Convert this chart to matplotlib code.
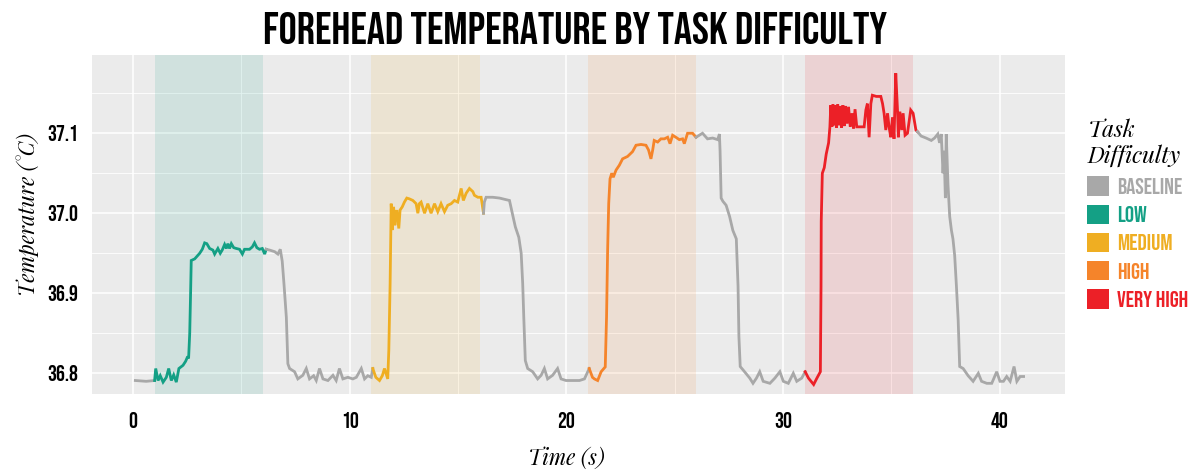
import matplotlib
matplotlib.use('Agg')
from matplotlib import pyplot as plt
from matplotlib.patches import Patch

###data###

levels = ['BASELINE', 'LOW', 'MEDIUM', 'HIGH', 'VERY HIGH']
level_colors = ['#A8A8A8', '#14A085', '#EFAE22', '#F5842A', '#EC2027']

# task windows (s)
task_levels = ['LOW', 'MEDIUM', 'HIGH', 'VERY HIGH']
task_start = [1, 11, 21, 31]
task_end = [6, 16, 26, 36]

# curve pieces, each one drawn in the colour of its level
seg_levels = ['BASELINE', 'LOW', 'BASELINE', 'MEDIUM', 'BASELINE',
              'HIGH', 'BASELINE', 'VERY HIGH', 'BASELINE']

seg_time = [
    [0.1, 0.6, 0.99],
    [0.99, 1.04, 1.15, 1.25, 1.38, 1.53, 1.64, 1.76, 1.87, 1.99, 2.11, 2.30,
     2.42, 2.50, 2.56, 2.61, 2.65, 2.68, 2.84, 3.07, 3.19, 3.30, 3.40, 3.53,
     3.68, 3.76, 3.91, 4.02, 4.11, 4.22, 4.30, 4.37, 4.45, 4.53, 4.64, 4.76,
     4.91, 5.04, 5.14, 5.37, 5.50, 5.60, 5.71, 5.83, 5.96, 6.07, 6.14],
    [6.14, 6.30, 6.53, 6.68, 6.79, 6.88, 6.96, 7.07, 7.14, 7.22, 7.45, 7.60,
     7.83, 7.99, 8.14, 8.33, 8.45, 8.60, 8.76, 8.99, 9.22, 9.37, 9.52, 9.68,
     9.91, 10.14, 10.30, 10.53, 10.68, 10.83, 10.99, 11.06],
    [11.06, 11.20, 11.37, 11.50, 11.60, 11.75, 11.80, 11.86, 11.91, 11.96,
     12.02, 12.08, 12.11, 12.17, 12.26, 12.32, 12.42, 12.52, 12.63, 12.75,
     12.91, 13.06, 13.14, 13.21, 13.29, 13.45, 13.60, 13.75, 13.91, 14.06,
     14.21, 14.37, 14.52, 14.68, 14.83, 14.98, 15.14, 15.24, 15.37, 15.52,
     15.68, 15.75, 15.91, 16.06, 16.17],
    [16.17, 16.21, 16.29, 16.60, 16.91, 17.21, 17.37, 17.52, 17.64, 17.80,
     17.91, 17.98, 18.03, 18.10, 18.21, 18.44, 18.67, 18.83, 18.98, 19.13,
     19.36, 19.59, 19.75, 19.98, 20.29, 20.60, 20.83, 21.05],
    [21.05, 21.20, 21.29, 21.44, 21.60, 21.79, 21.85, 21.90, 21.95, 22.01,
     22.09, 22.16, 22.29, 22.44, 22.59, 22.82, 23.05, 23.21, 23.44, 23.67,
     23.79, 23.90, 23.98, 24.05, 24.21, 24.36, 24.52, 24.67, 24.78, 24.90,
     25.05, 25.21, 25.36, 25.44, 25.59, 25.82, 25.98],
    [25.98, 26.13, 26.28, 26.51, 26.75, 26.98, 27.06, 27.09, 27.14, 27.22,
     27.37, 27.53, 27.68, 27.84, 27.92, 27.96, 28.02, 28.22, 28.46, 28.61,
     28.77, 28.92, 29.08, 29.39, 29.62, 29.85, 30.01, 30.24, 30.47, 30.63,
     30.86, 31.02],
    [31.02, 31.17, 31.41, 31.56, 31.72, 31.75, 31.76, 31.81, 31.90, 31.99,
     32.10, 32.16, 32.20, 32.25, 32.30, 32.35, 32.40, 32.46, 32.52, 32.58,
     32.64, 32.70, 32.76, 32.82, 32.88, 32.95, 33.02, 33.10, 33.18, 33.25,
     33.32, 33.40, 33.51, 33.74, 33.82, 33.89, 33.97, 34.05, 34.12, 34.30,
     34.51, 34.59, 34.66, 34.74, 34.82, 34.89, 34.97, 35.05, 35.12, 35.20,
     35.28, 35.32, 35.39, 35.48, 35.54, 35.63, 35.74, 35.89, 36.00, 36.13,
     36.20],
    [36.20, 36.37, 36.60, 36.84, 36.99, 37.14, 37.22, 37.30, 37.38, 37.43,
     37.49, 37.53, 37.61, 37.69, 37.77, 37.84, 37.92, 38.00, 38.08, 38.15,
     38.31, 38.54, 38.77, 39.01, 39.16, 39.40, 39.63, 39.86, 40.01, 40.17,
     40.32, 40.48, 40.66, 40.79, 40.94, 41.10],
]

seg_temp = [
    [36.791, 36.790, 36.791],
    [36.791, 36.806, 36.791, 36.797, 36.789, 36.795, 36.806, 36.791, 36.798,
     36.789, 36.806, 36.810, 36.815, 36.820, 36.820, 36.850, 36.900, 36.941,
     36.943, 36.950, 36.955, 36.963, 36.962, 36.956, 36.954, 36.949, 36.956,
     36.950, 36.954, 36.961, 36.956, 36.962, 36.956, 36.962, 36.957, 36.956,
     36.955, 36.949, 36.955, 36.955, 36.958, 36.963, 36.957, 36.955, 36.956,
     36.949, 36.955],
    [36.955, 36.954, 36.952, 36.949, 36.955, 36.940, 36.912, 36.870, 36.812,
     36.806, 36.802, 36.793, 36.7975, 36.806, 36.793, 36.797, 36.791, 36.806,
     36.793, 36.791, 36.7975, 36.791, 36.806, 36.793, 36.795, 36.793, 36.795,
     36.806, 36.793, 36.797, 36.795, 36.806],
    [36.806, 36.795, 36.791, 36.797, 36.806, 36.793, 36.829, 36.912, 37.012,
     36.979, 37.008, 36.985, 36.995, 37.004, 36.981, 37.004, 37.008, 37.014,
     37.019, 37.018, 37.016, 37.012, 37.000, 37.012, 37.014, 37.000, 37.012,
     37.000, 37.012, 37.002, 37.012, 37.002, 37.010, 37.012, 37.016, 37.014,
     37.031, 37.016, 37.025, 37.031, 37.027, 37.0225, 37.020, 37.020, 37.000],
    [37.000, 37.014, 37.020, 37.020, 37.019, 37.017, 37.016, 36.9975, 36.983,
     36.970, 36.950, 36.912, 36.870, 36.816, 36.806, 36.802, 36.793, 36.7975,
     36.806, 36.793, 36.7975, 36.806, 36.793, 36.791, 36.791, 36.791, 36.793,
     36.806],
    [36.806, 36.795, 36.793, 36.791, 36.802, 36.808, 36.870, 36.954, 37.012,
     37.043, 37.050, 37.045, 37.054, 37.060, 37.068, 37.071, 37.077, 37.085,
     37.086, 37.085, 37.079, 37.068, 37.079, 37.091, 37.089, 37.093, 37.093,
     37.095, 37.087, 37.0975, 37.095, 37.092, 37.093, 37.087, 37.100, 37.100,
     37.095],
    [37.095, 37.0975, 37.100, 37.093, 37.094, 37.092, 37.099, 37.078, 37.019,
     37.015, 37.010, 36.996, 36.9786, 36.968, 36.909, 36.846, 36.8085, 36.802,
     36.794, 36.7875, 36.794, 36.802, 36.790, 36.7875, 36.794, 36.802, 36.790,
     36.7875, 36.800, 36.790, 36.794, 36.802],
    [36.802, 36.794, 36.786, 36.794, 36.802, 36.909, 36.990, 37.050, 37.057,
     37.074, 37.088, 37.108, 37.135, 37.108, 37.136, 37.110, 37.135, 37.107,
     37.136, 37.110, 37.134, 37.107, 37.135, 37.109, 37.134, 37.112, 37.133,
     37.108, 37.125, 37.106, 37.130, 37.108, 37.108, 37.108, 37.129, 37.137,
     37.095, 37.137, 37.1475, 37.146, 37.146, 37.137, 37.125, 37.104, 37.125,
     37.108, 37.095, 37.120, 37.093, 37.175, 37.129, 37.095, 37.127, 37.104,
     37.125, 37.0975, 37.100, 37.129, 37.125, 37.104, 37.102],
    [37.102, 37.0965, 37.094, 37.091, 37.094, 37.099, 37.088, 37.099, 37.050,
     37.078, 37.019, 37.099, 37.036, 36.996, 36.9786, 36.968, 36.947, 36.909,
     36.867, 36.8085, 36.806, 36.797, 36.790, 36.800, 36.790, 36.7875, 36.7875,
     36.802, 36.790, 36.790, 36.796, 36.790, 36.8085, 36.790, 36.796, 36.796],
]

x_ticks = [0, 10, 20, 30, 40]
y_ticks = [36.8, 36.9, 37.0, 37.1]

###graph###

color_of = dict(zip(levels, level_colors))
bebas = ['Bebas Neue', 'DejaVu Sans']
playfair = ['Playfair Display', 'DejaVu Serif']

fig = plt.figure(figsize=(11.95, 4.72), dpi=100)
ax = fig.add_axes([0.077, 0.165, 0.814, 0.718])
ax.set_facecolor('#EBEBEB')
for s in ax.spines.values():
    s.set_visible(False)

ax.set_axisbelow(True)
ax.set_xticks([-5, 5, 15, 25, 35, 45], minor=True)
ax.set_yticks([36.75, 36.85, 36.95, 37.05, 37.15], minor=True)
ax.grid(which='major', color='white', lw=1.1)
ax.grid(which='minor', color='white', lw=0.6)

# shaded task windows
for lev, a, b in zip(task_levels, task_start, task_end):
    ax.axvspan(a, b, color=color_of[lev], alpha=0.12, lw=0)

for lev, t, v in zip(seg_levels, seg_time, seg_temp):
    ax.plot(t, v, color=color_of[lev], lw=2.0, solid_joinstyle='miter')

ax.set_xlim(-1.9, 43.0)
ax.set_ylim(36.774, 37.1975)
ax.set_xticks(x_ticks)
ax.set_yticks(y_ticks)
ax.set_yticklabels(['%.1f' % y for y in y_ticks])
ax.tick_params(which='both', length=0)
ax.tick_params(axis='x', pad=13)
ax.tick_params(axis='y', pad=10)
for lab in ax.get_xticklabels() + ax.get_yticklabels():
    lab.set_family(bebas)
    lab.set_fontsize(16)

ax.set_xlabel('Time (s)', family=playfair, style='italic', fontsize=15.5)
ax.xaxis.set_label_coords(0.488, -0.155)
ax.set_ylabel('Temperature (°C)', family=playfair, style='italic', fontsize=15.5)
ax.yaxis.set_label_coords(-0.055, 0.53)

fig.text(0.481, 0.94, 'FOREHEAD TEMPERATURE BY TASK DIFFICULTY',
         ha='center', va='center', family=bebas, fontsize=32.6)

handles = [Patch(facecolor=c, edgecolor='none') for c in level_colors]
leg = ax.legend(handles, levels, loc='upper left',
                bbox_to_anchor=(0.910, 0.750), bbox_transform=fig.transFigure,
                frameon=False, borderpad=0, borderaxespad=0,
                handlelength=0.92, handleheight=0.92, handletextpad=0.39,
                labelspacing=0.39, labelcolor=level_colors,
                prop={'family': bebas, 'size': 16.5},
                title='Task\nDifficulty',
                title_fontproperties={'family': playfair, 'style': 'italic', 'size': 16.5},
                alignment='left')
leg.get_title().set_linespacing(1.2)

plt.savefig('out.png', dpi=100)
